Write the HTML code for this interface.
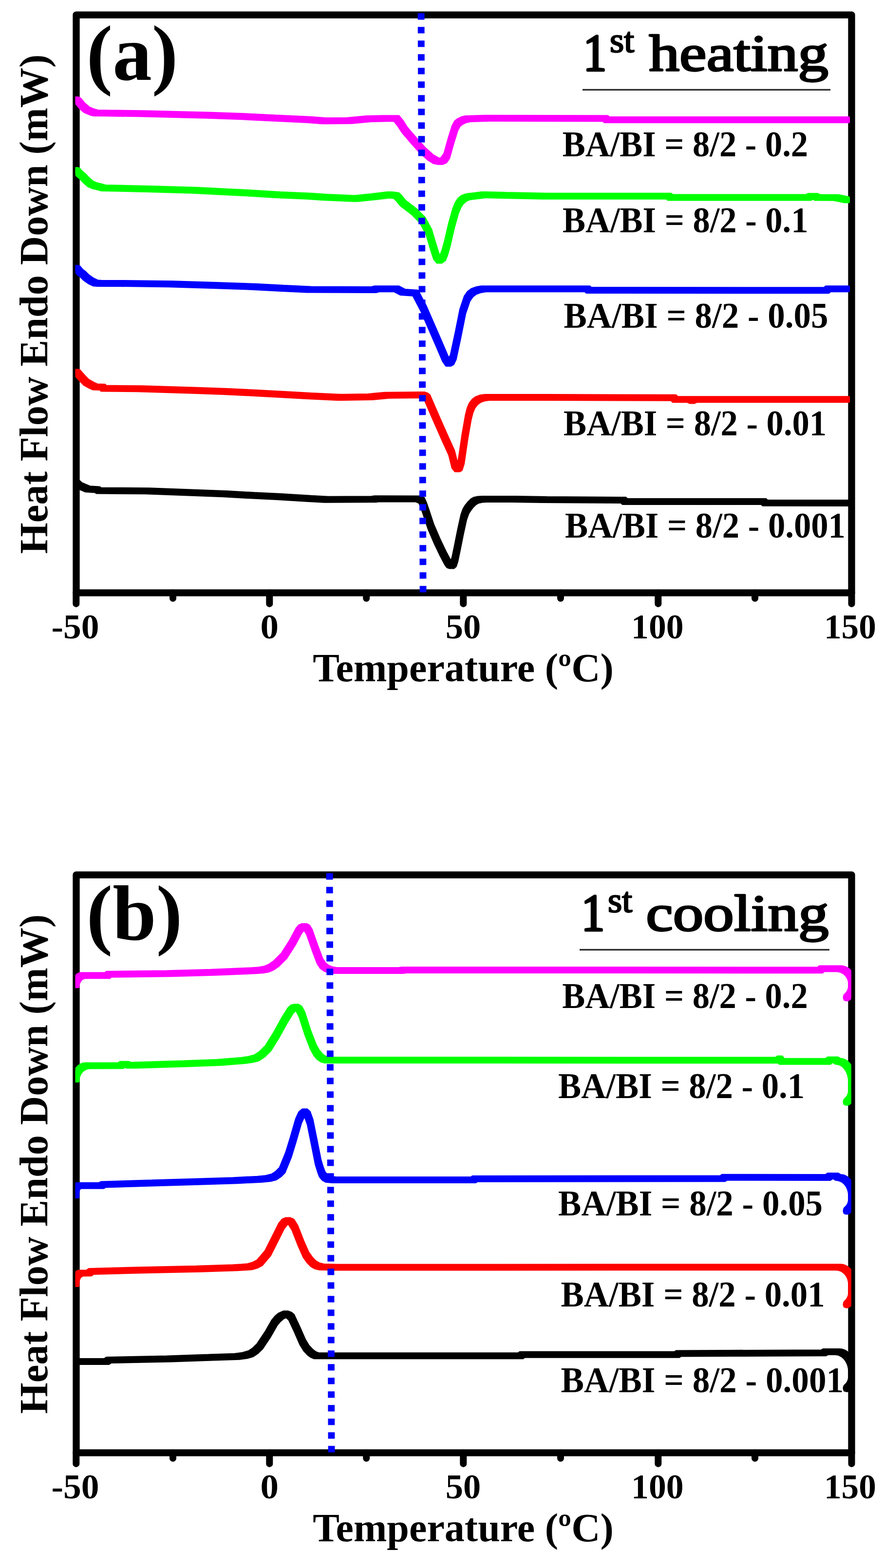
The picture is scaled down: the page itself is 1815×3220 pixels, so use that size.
<!DOCTYPE html>
<html lang="en">
<head>
<meta charset="utf-8">
<title>DSC thermograms - 1st heating and 1st cooling</title>
<style>
html,body{margin:0;padding:0;background:#fff;}
body{width:1815px;height:3220px;overflow:hidden;}
svg{display:block;}
text{font-family:"Liberation Serif", "DejaVu Serif", serif;font-weight:bold;fill:#000;}
.curve{stroke-width:4.8;stroke-linejoin:round;}
.tl{font-weight:bold;}
.ttl{font-weight:normal;stroke:#000;stroke-width:3.4;stroke-linejoin:round;white-space:pre;}
.frame{fill:none;stroke:#000;stroke-width:14.3;stroke-linejoin:round;}
.tick{stroke:#000;stroke-width:14.0;stroke-linecap:round;}
.dot{stroke:#0000ff;stroke-width:13.8;fill:none;}
.ul{stroke:#2a2a2a;stroke-width:3.2;}
</style>
</head>
<body>
<svg width="1815" height="3220" viewBox="0 0 1815 3220" role="img" aria-label="DSC thermograms: (a) first heating and (b) first cooling">
<rect x="0" y="0" width="1815" height="3220" fill="#ffffff"/>

<g>
<rect class="frame" x="156.5" y="30.6" width="1592.0" height="1186.8000000000002"/>
<line class="tick" x1="156.3" y1="1217.4" x2="156.3" y2="1239.9"/>
<line class="tick" x1="553.3" y1="1217.4" x2="553.3" y2="1239.9"/>
<line class="tick" x1="951.3" y1="1217.4" x2="951.3" y2="1239.9"/>
<line class="tick" x1="1351.3" y1="1217.4" x2="1351.3" y2="1239.9"/>
<line class="tick" x1="1748.5" y1="1217.4" x2="1748.5" y2="1239.9"/>
<line class="tick" x1="355.0" y1="1217.4" x2="355.0" y2="1228.7"/>
<line class="tick" x1="752.2" y1="1217.4" x2="752.2" y2="1228.7"/>
<line class="tick" x1="1151.0" y1="1217.4" x2="1151.0" y2="1228.7"/>
<line class="tick" x1="1550.0" y1="1217.4" x2="1550.0" y2="1228.7"/>
<clipPath id="clip-a"><rect x="154.6" y="30.6" width="1593.2" height="1186.8000000000002"/></clipPath>
<g clip-path="url(#clip-a)">
<path class="curve" fill="#000000" stroke="#000000" d="M150 984.4L159.2 984.4L161.6 986.9L161.6 996.1L152.4 996.1L150 993.6ZM152.4 986.9L161.6 986.9L167.6 992.4L167.6 1001.6L158.4 1001.6L152.4 996.1ZM158.4 992.4L167.6 992.4L174.6 995.4L174.6 1004.6L165.4 1004.6L158.4 1001.6ZM165.4 995.4L174.6 995.4L184.6 999.6L184.6 1008.8L175.4 1008.8L165.4 1004.6ZM175.4 999.6L184.6 999.6L204.6 1000.8L204.6 1010L195.4 1010L175.4 1008.8ZM195.4 1000.8L204.6 1000.8L207.1 1002.8L207.1 1012L197.9 1012L195.4 1010ZM197.9 1002.8L207.1 1002.8L307.6 1003.7L307.6 1012.9L298.4 1012.9L197.9 1012ZM298.4 1003.7L307.6 1003.7L401.6 1007.1L401.6 1016.3L392.4 1016.3L298.4 1012.9ZM392.4 1007.1L401.6 1007.1L467.6 1009.7L467.6 1018.9L458.4 1018.9L392.4 1016.3ZM458.4 1009.7L467.6 1009.7L521.6 1012.7L521.6 1021.9L512.4 1021.9L458.4 1018.9ZM512.4 1012.7L521.6 1012.7L577.6 1015.4L577.6 1024.6L568.4 1024.6L512.4 1021.9ZM568.4 1015.4L577.6 1015.4L638.6 1019.1L638.6 1028.3L629.4 1028.3L568.4 1024.6ZM629.4 1019.1L638.6 1019.1L674.6 1021.1L674.6 1030.3L665.4 1030.3L629.4 1028.3ZM665.4 1021.1L762.4 1020.7L771.6 1020.7L771.6 1029.9L674.6 1030.3L665.4 1030.3ZM762.4 1020.7L769.4 1019.7L778.6 1019.7L778.6 1028.9L771.6 1029.9L762.4 1029.9ZM769.4 1019.7L778.6 1019.7L862.6 1019.9L862.6 1029.1L853.4 1029.1L769.4 1028.9ZM853.4 1019.9L862.6 1019.9L870.1 1022.9L870.1 1032.1L860.9 1032.1L853.4 1029.1ZM860.9 1022.9L870.1 1022.9L874.1 1031.9L874.1 1041.1L864.9 1041.1L860.9 1032.1ZM864.9 1031.9L874.1 1031.9L878.7 1045L878.7 1054.2L869.5 1054.2L864.9 1041.1ZM869.5 1045L878.7 1045L889.4 1077.2L889.4 1086.4L880.2 1086.4L869.5 1054.2ZM880.2 1077.2L889.4 1077.2L902.2 1107L902.2 1116.2L893 1116.2L880.2 1086.4ZM893 1107L902.2 1107L914 1131.8L914 1141L904.8 1141L893 1116.2ZM904.8 1131.8L914 1131.8L923.6 1149.9L923.6 1159.1L914.4 1159.1L904.8 1141ZM914.4 1149.9L923.6 1149.9L927.6 1155.4L927.6 1164.6L918.4 1164.6L914.4 1159.1ZM918.4 1155.4L927.6 1155.4L931.6 1156.9L931.6 1166.1L922.4 1166.1L918.4 1164.6ZM922.4 1156.9L926.4 1153.4L935.6 1153.4L935.6 1162.6L931.6 1166.1L922.4 1166.1ZM926.4 1153.4L929.4 1144.4L938.6 1144.4L938.6 1153.6L935.6 1162.6L926.4 1162.6ZM929.4 1144.4L934.6 1119.4L943.8 1119.4L943.8 1128.6L938.6 1153.6L929.4 1153.6ZM934.6 1119.4L940.8 1088.4L950 1088.4L950 1097.6L943.8 1128.6L934.6 1128.6ZM940.8 1088.4L947.6 1057.4L956.8 1057.4L956.8 1066.6L950 1097.6L940.8 1097.6ZM947.6 1057.4L951.9 1045.4L961.1 1045.4L961.1 1054.6L956.8 1066.6L947.6 1066.6ZM951.9 1045.4L955.9 1038.8L965.1 1038.8L965.1 1048L961.1 1054.6L951.9 1054.6ZM955.9 1038.8L961.8 1031.4L971 1031.4L971 1040.6L965.1 1048L955.9 1048ZM961.8 1031.4L967.4 1025.9L976.6 1025.9L976.6 1035.1L971 1040.6L961.8 1040.6ZM967.4 1025.9L973 1022.7L982.2 1022.7L982.2 1031.9L976.6 1035.1L967.4 1035.1ZM973 1022.7L981.4 1020.9L990.6 1020.9L990.6 1030.1L982.2 1031.9L973 1031.9ZM981.4 1020.9L990.4 1020.4L999.6 1020.4L999.6 1029.6L990.6 1030.1L981.4 1030.1ZM990.4 1020.4L1058.6 1020.4L1058.6 1029.6L990.4 1029.6ZM1049.4 1020.4L1058.6 1020.4L1122.6 1021.4L1122.6 1030.6L1113.4 1030.6L1049.4 1029.6ZM1113.4 1021.4L1122.6 1021.4L1284.6 1022.4L1284.6 1031.6L1275.4 1031.6L1113.4 1030.6ZM1275.4 1022.4L1284.6 1022.4L1287.6 1025.4L1287.6 1034.6L1278.4 1034.6L1275.4 1031.6ZM1278.4 1025.4L1572.6 1025.4L1572.6 1034.6L1278.4 1034.6ZM1563.4 1025.4L1572.6 1025.4L1575.6 1028.2L1575.6 1037.4L1566.4 1037.4L1563.4 1034.6ZM1566.4 1028.2L1575.6 1028.2L1742.6 1028.3L1742.6 1037.5L1733.4 1037.5L1566.4 1037.4Z"/>
<path class="curve" fill="#ff0000" stroke="#ff0000" d="M150 759.9L159.2 759.9L163.1 760.4L163.1 769.6L153.9 769.6L150 769.1ZM153.9 760.4L163.1 760.4L172.1 770.7L172.1 779.9L162.9 779.9L153.9 769.6ZM162.9 770.7L172.1 770.7L181.6 780.4L181.6 789.6L172.4 789.6L162.9 779.9ZM172.4 780.4L181.6 780.4L192.6 786.7L192.6 795.9L183.4 795.9L172.4 789.6ZM183.4 786.7L192.6 786.7L200.1 790L200.1 799.2L190.9 799.2L183.4 795.9ZM190.9 790L200.1 790L215.6 790.5L215.6 799.7L206.4 799.7L190.9 799.2ZM206.4 790.5L215.6 790.5L217.1 793L217.1 802.2L207.9 802.2L206.4 799.7ZM207.9 793L217.1 793L291.3 793.7L291.3 802.9L282.1 802.9L207.9 802.2ZM282.1 793.7L291.3 793.7L404.6 797.1L404.6 806.3L395.4 806.3L282.1 802.9ZM395.4 797.1L404.6 797.1L467.6 799.4L467.6 808.6L458.4 808.6L395.4 806.3ZM458.4 799.4L467.6 799.4L524.6 802.1L524.6 811.3L515.4 811.3L458.4 808.6ZM515.4 802.1L524.6 802.1L584.6 805.4L584.6 814.6L575.4 814.6L515.4 811.3ZM575.4 805.4L584.6 805.4L638.6 808.4L638.6 817.6L629.4 817.6L575.4 814.6ZM629.4 808.4L638.6 808.4L701.6 811.4L701.6 820.6L692.4 820.6L629.4 817.6ZM692.4 811.4L755.4 810.4L764.6 810.4L764.6 819.6L701.6 820.6L692.4 820.6ZM755.4 810.4L789.4 807.1L798.6 807.1L798.6 816.3L764.6 819.6L755.4 819.6ZM789.4 807.1L862.7 806.4L871.9 806.4L871.9 815.6L798.6 816.3L789.4 816.3ZM862.7 806.4L871.9 806.4L877.6 808.4L877.6 817.6L868.4 817.6L862.7 815.6ZM868.4 808.4L877.6 808.4L881.9 812.1L881.9 821.3L872.7 821.3L868.4 817.6ZM872.7 812.1L881.9 812.1L891.9 835.4L891.9 844.6L882.7 844.6L872.7 821.3ZM882.7 835.4L891.9 835.4L901.9 858.4L901.9 867.6L892.7 867.6L882.7 844.6ZM892.7 858.4L901.9 858.4L915.3 888.7L915.3 897.9L906.1 897.9L892.7 867.6ZM906.1 888.7L915.3 888.7L931.9 925.4L931.9 934.6L922.7 934.6L906.1 897.9ZM922.7 925.4L931.9 925.4L938.6 952.1L938.6 961.3L929.4 961.3L922.7 934.6ZM929.4 952.1L938.6 952.1L943.6 958.1L943.6 967.3L934.4 967.3L929.4 961.3ZM934.4 958.1L938.4 955.9L947.6 955.9L947.6 965.1L943.6 967.3L934.4 967.3ZM938.4 955.9L942.4 943.4L951.6 943.4L951.6 952.6L947.6 965.1L938.4 965.1ZM942.4 943.4L950.1 891.1L959.3 891.1L959.3 900.3L951.6 952.6L942.4 952.6ZM950.1 891.1L956.9 852.4L966.1 852.4L966.1 861.6L959.3 900.3L950.1 900.3ZM956.9 852.4L960.4 838.4L969.6 838.4L969.6 847.6L966.1 861.6L956.9 861.6ZM960.4 838.4L964.6 828.4L973.8 828.4L973.8 837.6L969.6 847.6L960.4 847.6ZM964.6 828.4L970.4 820.9L979.6 820.9L979.6 830.1L973.8 837.6L964.6 837.6ZM970.4 820.9L977.1 815.9L986.3 815.9L986.3 825.1L979.6 830.1L970.4 830.1ZM977.1 815.9L986.4 812.6L995.6 812.6L995.6 821.8L986.3 825.1L977.1 825.1ZM986.4 812.6L995.4 811.4L1004.6 811.4L1004.6 820.6L995.6 821.8L986.4 821.8ZM995.4 811.4L1122.6 811.4L1122.6 820.6L995.4 820.6ZM1113.4 811.4L1122.6 811.4L1387.6 812.1L1387.6 821.3L1378.4 821.3L1113.4 820.6ZM1378.4 812.1L1387.6 812.1L1390.6 815.6L1390.6 824.8L1381.4 824.8L1378.4 821.3ZM1381.4 815.6L1420.6 815.6L1420.6 824.8L1381.4 824.8ZM1411.4 815.6L1420.6 815.6L1425.6 818L1425.6 827.2L1416.4 827.2L1411.4 824.8ZM1416.4 818L1421.4 815.6L1430.6 815.6L1430.6 824.8L1425.6 827.2L1416.4 827.2ZM1421.4 815.6L1430.6 815.6L1742.6 815.7L1742.6 824.9L1733.4 824.9L1421.4 824.8Z"/>
<path class="curve" fill="#0000ff" stroke="#0000ff" d="M150 546.5L159.2 546.5L163.1 547.2L163.1 556.4L153.9 556.4L150 555.7ZM153.9 547.2L163.1 547.2L169.1 554.4L169.1 563.6L159.9 563.6L153.9 556.4ZM159.9 554.4L169.1 554.4L174.6 558.4L174.6 567.6L165.4 567.6L159.9 563.6ZM165.4 558.4L174.6 558.4L181.6 565.4L181.6 574.6L172.4 574.6L165.4 567.6ZM172.4 565.4L181.6 565.4L191.6 572.4L191.6 581.6L182.4 581.6L172.4 574.6ZM182.4 572.4L191.6 572.4L200.6 576.6L200.6 585.8L191.4 585.8L182.4 581.6ZM191.4 576.6L200.6 576.6L209.6 577.4L209.6 586.6L200.4 586.6L191.4 585.8ZM200.4 577.4L254.6 577.4L254.6 586.6L200.4 586.6ZM245.4 577.4L254.6 577.4L354.6 578.7L354.6 587.9L345.4 587.9L245.4 586.6ZM345.4 578.7L354.6 578.7L444.6 581.4L444.6 590.6L435.4 590.6L345.4 587.9ZM435.4 581.4L444.6 581.4L524.6 584.1L524.6 593.3L515.4 593.3L435.4 590.6ZM515.4 584.1L524.6 584.1L581.6 587.1L581.6 596.3L572.4 596.3L515.4 593.3ZM572.4 587.1L581.6 587.1L638.6 589.9L638.6 599.1L629.4 599.1L572.4 596.3ZM629.4 589.9L638.6 589.9L771.6 590.4L771.6 599.6L762.4 599.6L629.4 599.1ZM762.4 590.4L769.4 588.7L778.6 588.7L778.6 597.9L771.6 599.6L762.4 599.6ZM769.4 588.7L818.6 588.7L818.6 597.9L769.4 597.9ZM809.4 588.7L818.6 588.7L831.6 595.4L831.6 604.6L822.4 604.6L809.4 597.9ZM822.4 595.4L831.6 595.4L857.6 597.1L857.6 606.3L848.4 606.3L822.4 604.6ZM848.4 597.1L857.6 597.1L874.1 628.7L874.1 637.9L864.9 637.9L848.4 606.3ZM864.9 628.7L874.1 628.7L890.1 665.4L890.1 674.6L880.9 674.6L864.9 637.9ZM880.9 665.4L890.1 665.4L906.1 702.1L906.1 711.3L896.9 711.3L880.9 674.6ZM896.9 702.1L906.1 702.1L918.9 732.1L918.9 741.3L909.7 741.3L896.9 711.3ZM909.7 732.1L918.9 732.1L925.3 741.4L925.3 750.6L916.1 750.6L909.7 741.3ZM916.1 741.4L921.4 738.4L930.6 738.4L930.6 747.6L925.3 750.6L916.1 750.6ZM921.4 738.4L926.1 728.7L935.3 728.7L935.3 737.9L930.6 747.6L921.4 747.6ZM926.1 728.7L936.1 682.1L945.3 682.1L945.3 691.3L935.3 737.9L926.1 737.9ZM936.1 682.1L945.4 635.4L954.6 635.4L954.6 644.6L945.3 691.3L936.1 691.3ZM945.4 635.4L954.4 608.7L963.6 608.7L963.6 617.9L954.6 644.6L945.4 644.6ZM954.4 608.7L960.9 599.4L970.1 599.4L970.1 608.6L963.6 617.9L954.4 617.9ZM960.9 599.4L968.6 593.7L977.8 593.7L977.8 602.9L970.1 608.6L960.9 608.6ZM968.6 593.7L977.9 590.4L987.1 590.4L987.1 599.6L977.8 602.9L968.6 602.9ZM977.9 590.4L988.4 588.7L997.6 588.7L997.6 597.9L987.1 599.6L977.9 599.6ZM988.4 588.7L1210.6 588.7L1210.6 597.9L988.4 597.9ZM1201.4 588.7L1210.6 588.7L1213.6 591.4L1213.6 600.6L1204.4 600.6L1201.4 597.9ZM1204.4 591.4L1213.6 591.4L1701.6 591.6L1701.6 600.8L1692.4 600.8L1204.4 600.6ZM1692.4 591.6L1695.4 588.6L1704.6 588.6L1704.6 597.8L1701.6 600.8L1692.4 600.8ZM1695.4 588.6L1742.6 588.6L1742.6 597.8L1695.4 597.8Z"/>
<path class="curve" fill="#00ff00" stroke="#00ff00" d="M150 345.5L159.2 345.5L162.6 346.4L162.6 355.6L153.4 355.6L150 354.7ZM153.4 346.4L162.6 346.4L168.6 352.9L168.6 362.1L159.4 362.1L153.4 355.6ZM159.4 352.9L168.6 352.9L174.6 357.9L174.6 367.1L165.4 367.1L159.4 362.1ZM165.4 357.9L174.6 357.9L181.6 365.4L181.6 374.6L172.4 374.6L165.4 367.1ZM172.4 365.4L181.6 365.4L190.6 373.2L190.6 382.4L181.4 382.4L172.4 374.6ZM181.4 373.2L190.6 373.2L199.2 376.9L199.2 386.1L190 386.1L181.4 382.4ZM190 376.9L199.2 376.9L207.6 378.8L207.6 388L198.4 388L190 386.1ZM198.4 378.8L207.6 378.8L216.6 381.3L216.6 390.5L207.4 390.5L198.4 388ZM207.4 381.3L216.6 381.3L307.6 383.4L307.6 392.6L298.4 392.6L207.4 390.5ZM298.4 383.4L307.6 383.4L404.6 386.1L404.6 395.3L395.4 395.3L298.4 392.6ZM395.4 386.1L404.6 386.1L467.6 389.4L467.6 398.6L458.4 398.6L395.4 395.3ZM458.4 389.4L467.6 389.4L521.6 392.1L521.6 401.3L512.4 401.3L458.4 398.6ZM512.4 392.1L521.6 392.1L574.6 395.4L574.6 404.6L565.4 404.6L512.4 401.3ZM565.4 395.4L574.6 395.4L638.6 398.1L638.6 407.3L629.4 407.3L565.4 404.6ZM629.4 398.1L638.6 398.1L671.6 400.4L671.6 409.6L662.4 409.6L629.4 407.3ZM662.4 400.4L671.6 400.4L734.6 403.1L734.6 412.3L725.4 412.3L662.4 409.6ZM725.4 403.1L762.4 399.4L771.6 399.4L771.6 408.6L734.6 412.3L725.4 412.3ZM762.4 399.4L795.4 395.4L804.6 395.4L804.6 404.6L771.6 408.6L762.4 408.6ZM795.4 395.4L804.6 395.4L818.6 397.1L818.6 406.3L809.4 406.3L795.4 404.6ZM809.4 397.1L818.6 397.1L824.6 403.4L824.6 412.6L815.4 412.6L809.4 406.3ZM815.4 403.4L824.6 403.4L831.6 412.1L831.6 421.3L822.4 421.3L815.4 412.6ZM822.4 412.1L831.6 412.1L855.3 430.4L855.3 439.6L846.1 439.6L822.4 421.3ZM846.1 430.4L855.3 430.4L871.9 447.1L871.9 456.3L862.7 456.3L846.1 439.6ZM862.7 447.1L871.9 447.1L885.3 472.1L885.3 481.3L876.1 481.3L862.7 456.3ZM876.1 472.1L885.3 472.1L894.1 502.1L894.1 511.3L884.9 511.3L876.1 481.3ZM884.9 502.1L894.1 502.1L900.6 522.4L900.6 531.6L891.4 531.6L884.9 511.3ZM891.4 522.4L900.6 522.4L906.9 529.9L906.9 539.1L897.7 539.1L891.4 531.6ZM897.7 529.9L904.4 524.9L913.6 524.9L913.6 534.1L906.9 539.1L897.7 539.1ZM904.4 524.9L908.9 513.4L918.1 513.4L918.1 522.6L913.6 534.1L904.4 534.1ZM908.9 513.4L913.9 495.4L923.1 495.4L923.1 504.6L918.1 522.6L908.9 522.6ZM913.9 495.4L922.4 458.7L931.6 458.7L931.6 467.9L923.1 504.6L913.9 504.6ZM922.4 458.7L930.9 428.7L940.1 428.7L940.1 437.9L931.6 467.9L922.4 467.9ZM930.9 428.7L935.9 416.4L945.1 416.4L945.1 425.6L940.1 437.9L930.9 437.9ZM935.9 416.4L940.9 408.7L950.1 408.7L950.1 417.9L945.1 425.6L935.9 425.6ZM940.9 408.7L948.4 402.4L957.6 402.4L957.6 411.6L950.1 417.9L940.9 417.9ZM948.4 402.4L956.9 399.4L966.1 399.4L966.1 408.6L957.6 411.6L948.4 411.6ZM956.9 399.4L989.4 395.4L998.6 395.4L998.6 404.6L966.1 408.6L956.9 408.6ZM989.4 395.4L998.6 395.4L1038.6 396.4L1038.6 405.6L1029.4 405.6L989.4 404.6ZM1029.4 396.4L1038.6 396.4L1122.6 398.1L1122.6 407.3L1113.4 407.3L1029.4 405.6ZM1113.4 398.1L1377.6 398.1L1377.6 407.3L1113.4 407.3ZM1368.4 398.1L1377.6 398.1L1380.6 400.8L1380.6 410L1371.4 410L1368.4 407.3ZM1371.4 400.8L1380.6 400.8L1664.6 400.9L1664.6 410.1L1655.4 410.1L1371.4 410ZM1655.4 400.9L1659.4 398.6L1668.6 398.6L1668.6 407.8L1664.6 410.1L1655.4 410.1ZM1659.4 398.6L1678.6 398.6L1678.6 407.8L1659.4 407.8ZM1669.4 398.6L1678.6 398.6L1682.6 400.9L1682.6 410.1L1673.4 410.1L1669.4 407.8ZM1673.4 400.9L1682.6 400.9L1720.6 401.2L1720.6 410.4L1711.4 410.4L1673.4 410.1ZM1711.4 401.2L1720.6 401.2L1732.6 403.4L1732.6 412.6L1723.4 412.6L1711.4 410.4ZM1723.4 403.4L1732.6 403.4L1742.6 405.7L1742.6 414.9L1733.4 414.9L1723.4 412.6Z"/>
<path class="curve" fill="#ff00ff" stroke="#ff00ff" d="M150 200.4L159.2 200.4L162.6 201.2L162.6 210.4L153.4 210.4L150 209.6ZM153.4 201.2L162.6 201.2L166.2 203.9L166.2 213.1L157 213.1L153.4 210.4ZM157 203.9L166.2 203.9L172.6 212.2L172.6 221.4L163.4 221.4L157 213.1ZM163.4 212.2L172.6 212.2L182.8 220.9L182.8 230.1L173.6 230.1L163.4 221.4ZM173.6 220.9L182.8 220.9L193.7 225.4L193.7 234.6L184.5 234.6L173.6 230.1ZM184.5 225.4L193.7 225.4L200.6 227.4L200.6 236.6L191.4 236.6L184.5 234.6ZM191.4 227.4L200.6 227.4L221.6 227.7L221.6 236.9L212.4 236.9L191.4 236.6ZM212.4 227.7L221.6 227.7L294.6 228.7L294.6 237.9L285.4 237.9L212.4 236.9ZM285.4 228.7L294.6 228.7L434.6 232.1L434.6 241.3L425.4 241.3L285.4 237.9ZM425.4 232.1L434.6 232.1L504.6 234.7L504.6 243.9L495.4 243.9L425.4 241.3ZM495.4 234.7L504.6 234.7L564.6 237.7L564.6 246.9L555.4 246.9L495.4 243.9ZM555.4 237.7L564.6 237.7L638.6 241.1L638.6 250.3L629.4 250.3L555.4 246.9ZM629.4 241.1L638.6 241.1L671.6 243.7L671.6 252.9L662.4 252.9L629.4 250.3ZM662.4 243.7L712.4 243.1L721.6 243.1L721.6 252.3L671.6 252.9L662.4 252.9ZM712.4 243.1L752.4 239.4L761.6 239.4L761.6 248.6L721.6 252.3L712.4 252.3ZM752.4 239.4L785.4 238.7L794.6 238.7L794.6 247.9L761.6 248.6L752.4 248.6ZM785.4 238.7L818.6 238.7L818.6 247.9L785.4 247.9ZM809.4 238.7L818.6 238.7L826.6 248.4L826.6 257.6L817.4 257.6L809.4 247.9ZM817.4 248.4L826.6 248.4L835.3 262.1L835.3 271.3L826.1 271.3L817.4 257.6ZM826.1 262.1L835.3 262.1L855.3 285.4L855.3 294.6L846.1 294.6L826.1 271.3ZM846.1 285.4L855.3 285.4L871.9 303.7L871.9 312.9L862.7 312.9L846.1 294.6ZM862.7 303.7L871.9 303.7L888.6 318.7L888.6 327.9L879.4 327.9L862.7 312.9ZM879.4 318.7L888.6 318.7L899.6 325.4L899.6 334.6L890.4 334.6L879.4 327.9ZM890.4 325.4L899.6 325.4L908.6 327.1L908.6 336.3L899.4 336.3L890.4 334.6ZM899.4 327.1L906.4 324.4L915.6 324.4L915.6 333.6L908.6 336.3L899.4 336.3ZM906.4 324.4L912.7 315.4L921.9 315.4L921.9 324.6L915.6 333.6L906.4 333.6ZM912.7 315.4L921.1 285.4L930.3 285.4L930.3 294.6L921.9 324.6L912.7 324.6ZM921.1 285.4L929.4 258.7L938.6 258.7L938.6 267.9L930.3 294.6L921.1 294.6ZM929.4 258.7L934.4 249.4L943.6 249.4L943.6 258.6L938.6 267.9L929.4 267.9ZM934.4 249.4L939.4 245.4L948.6 245.4L948.6 254.6L943.6 258.6L934.4 258.6ZM939.4 245.4L947.4 241.4L956.6 241.4L956.6 250.6L948.6 254.6L939.4 254.6ZM947.4 241.4L956.1 239.4L965.3 239.4L965.3 248.6L956.6 250.6L947.4 250.6ZM956.1 239.4L995.4 238.1L1004.6 238.1L1004.6 247.3L965.3 248.6L956.1 248.6ZM995.4 238.1L1004.6 238.1L1247.6 238.7L1247.6 247.9L1238.4 247.9L995.4 247.3ZM1238.4 238.7L1247.6 238.7L1250.6 241.4L1250.6 250.6L1241.4 250.6L1238.4 247.9ZM1241.4 241.4L1250.6 241.4L1742.6 241.5L1742.6 250.7L1733.4 250.7L1241.4 250.6Z"/>
</g>
<line class="dot" stroke-dasharray="13.2 14.80" x1="864.6" y1="27.2" x2="868.6" y2="1218.5"/>
<text x="177.6" y="164.4" font-size="161">(a)</text>
<text class="ttl" y="144.8" font-size="106"><tspan x="1197.5" y="144.5" font-size="107" textLength="48" lengthAdjust="spacingAndGlyphs" style="stroke-width:4.6">1</tspan><tspan x="1252.0" y="107.0" font-size="71" textLength="50" lengthAdjust="spacingAndGlyphs" style="stroke-width:2.6">st</tspan><tspan x="1301.3" y="144.8" textLength="399.5" lengthAdjust="spacingAndGlyphs" xml:space="preserve"> heating</tspan></text><line class="ul" x1="1196" y1="184.3" x2="1705" y2="184.3"/>
<text x="1154.7" y="320.9" font-size="73" textLength="504.4" lengthAdjust="spacingAndGlyphs">BA/BI = 8/2 - 0.2</text>
<text x="1155.0" y="477.3" font-size="73" textLength="504.4" lengthAdjust="spacingAndGlyphs">BA/BI = 8/2 - 0.1</text>
<text x="1157.5" y="673.0" font-size="73" textLength="543.0" lengthAdjust="spacingAndGlyphs">BA/BI = 8/2 - 0.05</text>
<text x="1157.1" y="894.0" font-size="73" textLength="540.0" lengthAdjust="spacingAndGlyphs">BA/BI = 8/2 - 0.01</text>
<text x="1159.9" y="1104.0" font-size="73" textLength="576.0" lengthAdjust="spacingAndGlyphs">BA/BI = 8/2 - 0.001</text>
<text x="154.5" y="1310.6" font-size="71.5" text-anchor="middle" textLength="98.0" lengthAdjust="spacingAndGlyphs" class="tl">-50</text>
<text x="553.3" y="1310.6" font-size="71.5" text-anchor="middle" textLength="37.5" lengthAdjust="spacingAndGlyphs" class="tl">0</text>
<text x="950.9" y="1310.6" font-size="71.5" text-anchor="middle" textLength="72.5" lengthAdjust="spacingAndGlyphs" class="tl">50</text>
<text x="1349.8" y="1310.6" font-size="71.5" text-anchor="middle" textLength="107.5" lengthAdjust="spacingAndGlyphs" class="tl">100</text>
<text x="1745.4" y="1310.6" font-size="71.5" text-anchor="middle" textLength="107.0" lengthAdjust="spacingAndGlyphs" class="tl">150</text>
<text x="642.3" y="1398.8" font-size="82.3" textLength="617.5" lengthAdjust="spacingAndGlyphs">Temperature (ºC)</text>
<text transform="translate(96.7,1137.5) rotate(-90)" font-size="82.5" textLength="1026" lengthAdjust="spacingAndGlyphs">Heat Flow Endo Down (mW)</text>
</g>
<g>
<rect class="frame" x="156.5" y="1796.6" width="1592.0" height="1186.8000000000002"/>
<line class="tick" x1="156.3" y1="2983.4" x2="156.3" y2="3005.9"/>
<line class="tick" x1="553.3" y1="2983.4" x2="553.3" y2="3005.9"/>
<line class="tick" x1="951.3" y1="2983.4" x2="951.3" y2="3005.9"/>
<line class="tick" x1="1351.3" y1="2983.4" x2="1351.3" y2="3005.9"/>
<line class="tick" x1="1748.5" y1="2983.4" x2="1748.5" y2="3005.9"/>
<line class="tick" x1="355.0" y1="2983.4" x2="355.0" y2="2994.7"/>
<line class="tick" x1="752.2" y1="2983.4" x2="752.2" y2="2994.7"/>
<line class="tick" x1="1151.0" y1="2983.4" x2="1151.0" y2="2994.7"/>
<line class="tick" x1="1550.0" y1="2983.4" x2="1550.0" y2="2994.7"/>
<clipPath id="clip-b"><rect x="154.6" y="1796.6" width="1593.2" height="1186.8000000000002"/></clipPath>
<g clip-path="url(#clip-b)">
<path class="curve" fill="#000000" stroke="#000000" d="M145.4 2791.4L223.6 2791.4L223.6 2800.6L145.4 2800.6ZM214.4 2791.4L218.4 2788.5L227.6 2788.5L227.6 2797.7L223.6 2800.6L214.4 2800.6ZM218.4 2788.5L342.4 2785.9L351.6 2785.9L351.6 2795.1L227.6 2797.7L218.4 2797.7ZM342.4 2785.9L428.4 2783L437.6 2783L437.6 2792.2L351.6 2795.1L342.4 2795.1ZM428.4 2783L482.1 2781.1L491.3 2781.1L491.3 2790.3L437.6 2792.2L428.4 2792.2ZM482.1 2781.1L498.4 2778.9L507.6 2778.9L507.6 2788.1L491.3 2790.3L482.1 2790.3ZM498.4 2778.9L510.4 2775.4L519.6 2775.4L519.6 2784.6L507.6 2788.1L498.4 2788.1ZM510.4 2775.4L519.4 2769.4L528.6 2769.4L528.6 2778.6L519.6 2784.6L510.4 2784.6ZM519.4 2769.4L528.7 2760.4L537.9 2760.4L537.9 2769.6L528.6 2778.6L519.4 2778.6ZM528.7 2760.4L545.4 2735.4L554.6 2735.4L554.6 2744.6L537.9 2769.6L528.7 2769.6ZM545.4 2735.4L558.7 2712.1L567.9 2712.1L567.9 2721.3L554.6 2744.6L545.4 2744.6ZM558.7 2712.1L565.4 2703.9L574.6 2703.9L574.6 2713.1L567.9 2721.3L558.7 2721.3ZM565.4 2703.9L572.4 2697.9L581.6 2697.9L581.6 2707.1L574.6 2713.1L565.4 2713.1ZM572.4 2697.9L582.1 2693.7L591.3 2693.7L591.3 2702.9L581.6 2707.1L572.4 2707.1ZM582.1 2693.7L591.3 2693.7L597.6 2695.9L597.6 2705.1L588.4 2705.1L582.1 2702.9ZM588.4 2695.9L597.6 2695.9L602.9 2700.4L602.9 2709.6L593.7 2709.6L588.4 2705.1ZM593.7 2700.4L602.9 2700.4L614.6 2725.4L614.6 2734.6L605.4 2734.6L593.7 2709.6ZM605.4 2725.4L614.6 2725.4L626.3 2752.1L626.3 2761.3L617.1 2761.3L605.4 2734.6ZM617.1 2752.1L626.3 2752.1L633.6 2763.9L633.6 2773.1L624.4 2773.1L617.1 2761.3ZM624.4 2763.9L633.6 2763.9L641.3 2772.1L641.3 2781.3L632.1 2781.3L624.4 2773.1ZM632.1 2772.1L641.3 2772.1L647.6 2776.9L647.6 2786.1L638.4 2786.1L632.1 2781.3ZM638.4 2776.9L647.6 2776.9L654.6 2779.7L654.6 2788.9L645.4 2788.9L638.4 2786.1ZM645.4 2779.7L1073.6 2779.7L1073.6 2788.9L645.4 2788.9ZM1064.4 2779.7L1067.4 2777.2L1076.6 2777.2L1076.6 2786.4L1073.6 2788.9L1064.4 2788.9ZM1067.4 2777.2L1394.6 2777.2L1394.6 2786.4L1067.4 2786.4ZM1385.4 2777.2L1388.4 2774.9L1397.6 2774.9L1397.6 2784.1L1394.6 2786.4L1385.4 2786.4ZM1388.4 2774.9L1495.4 2774.4L1504.6 2774.4L1504.6 2783.6L1397.6 2784.1L1388.4 2784.1ZM1495.4 2774.4L1686.4 2773.6L1695.6 2773.6L1695.6 2782.8L1504.6 2783.6L1495.4 2783.6ZM1686.4 2773.6L1690.4 2771.4L1699.6 2771.4L1699.6 2780.6L1695.6 2782.8L1686.4 2782.8ZM1690.4 2771.4L1723.8 2771.4L1723.8 2780.6L1690.4 2780.6ZM1714.6 2771.4L1723.8 2771.4L1728.8 2771.9L1728.8 2781.1L1719.6 2781.1L1714.6 2780.6ZM1719.6 2771.9L1728.8 2771.9L1733.7 2773.6L1733.7 2782.8L1724.5 2782.8L1719.6 2781.1ZM1724.5 2773.6L1733.7 2773.6L1738.3 2776.2L1738.3 2785.4L1729.1 2785.4L1724.5 2782.8ZM1729.1 2776.2L1738.3 2776.2L1742.4 2779.8L1742.4 2789L1733.2 2789L1729.1 2785.4ZM1733.2 2779.8L1742.4 2779.8L1746 2784.3L1746 2793.5L1736.8 2793.5L1733.2 2789ZM1736.8 2784.3L1746 2784.3L1748.9 2789.4L1748.9 2798.6L1739.7 2798.6L1736.8 2793.5ZM1739.7 2789.4L1748.9 2789.4L1751.1 2795.1L1751.1 2804.3L1741.9 2804.3L1739.7 2798.6ZM1741.9 2795.1L1751.1 2795.1L1752.4 2801.1L1752.4 2810.3L1743.2 2810.3L1741.9 2804.3ZM1743.2 2801.1L1752.4 2801.1L1752.8 2807.4L1752.8 2816.6L1743.6 2816.6L1743.2 2810.3ZM1743.6 2807.4L1752.8 2807.4L1752.8 2838.4L1743.6 2838.4ZM1742.4 2834.7L1743.6 2829.2L1752.8 2829.2L1752.8 2838.4L1751.6 2843.9L1742.4 2843.9ZM1739.4 2840.7L1742.4 2834.7L1751.6 2834.7L1751.6 2843.9L1748.6 2849.9L1739.4 2849.9ZM1734 2846.2L1739.4 2840.7L1748.6 2840.7L1748.6 2849.9L1743.2 2855.4L1734 2855.4Z"/>
<circle cx="1738.6" cy="2850.8" r="8.2" fill="#000000"/>
<path class="curve" fill="#ff0000" stroke="#ff0000" d="M151.7 2625.8L160.9 2625.8L160.9 2640.6L151.7 2640.6ZM151.7 2625.8L152 2622.2L161.2 2622.2L161.2 2631.4L160.9 2635L151.7 2635ZM152 2622.2L152.8 2618.9L162 2618.9L162 2628.1L161.2 2631.4L152 2631.4ZM152.8 2618.9L154.1 2615.8L163.3 2615.8L163.3 2625L162 2628.1L152.8 2628.1ZM154.1 2615.8L155.8 2613.3L165 2613.3L165 2622.5L163.3 2625L154.1 2625ZM155.8 2613.3L157.9 2611.4L167.1 2611.4L167.1 2620.6L165 2622.5L155.8 2622.5ZM157.9 2611.4L160.3 2610.2L169.5 2610.2L169.5 2619.4L167.1 2620.6L157.9 2620.6ZM160.3 2610.2L162.7 2609.8L171.9 2609.8L171.9 2619L169.5 2619.4L160.3 2619.4ZM162.7 2609.8L178.4 2609.6L187.6 2609.6L187.6 2618.8L171.9 2619L162.7 2619ZM178.4 2609.6L182.4 2606.4L191.6 2606.4L191.6 2615.6L187.6 2618.8L178.4 2618.8ZM182.4 2606.4L285.4 2603.7L294.6 2603.7L294.6 2612.9L191.6 2615.6L182.4 2615.6ZM285.4 2603.7L402.4 2601.1L411.6 2601.1L411.6 2610.3L294.6 2612.9L285.4 2612.9ZM402.4 2601.1L478.4 2598.6L487.6 2598.6L487.6 2607.8L411.6 2610.3L402.4 2610.3ZM478.4 2598.6L495.4 2597.7L504.6 2597.7L504.6 2606.9L487.6 2607.8L478.4 2607.8ZM495.4 2597.7L508.4 2596.7L517.6 2596.7L517.6 2605.9L504.6 2606.9L495.4 2606.9ZM508.4 2596.7L519.4 2593.4L528.6 2593.4L528.6 2602.6L517.6 2605.9L508.4 2605.9ZM519.4 2593.4L528.4 2588.7L537.6 2588.7L537.6 2597.9L528.6 2602.6L519.4 2602.6ZM528.4 2588.7L545.4 2568.7L554.6 2568.7L554.6 2577.9L537.6 2597.9L528.4 2597.9ZM545.4 2568.7L560.4 2538.9L569.6 2538.9L569.6 2548.1L554.6 2577.9L545.4 2577.9ZM560.4 2538.9L573.4 2512.9L582.6 2512.9L582.6 2522.1L569.6 2548.1L560.4 2548.1ZM573.4 2512.9L580.4 2504.4L589.6 2504.4L589.6 2513.6L582.6 2522.1L573.4 2522.1ZM580.4 2504.4L587.1 2501.8L596.3 2501.8L596.3 2511L589.6 2513.6L580.4 2513.6ZM587.1 2501.8L596.3 2501.8L602.6 2504.9L602.6 2514.1L593.4 2514.1L587.1 2511ZM593.4 2504.9L602.6 2504.9L610.1 2516.9L610.1 2526.1L600.9 2526.1L593.4 2514.1ZM600.9 2516.9L610.1 2516.9L622.6 2548.9L622.6 2558.1L613.4 2558.1L600.9 2526.1ZM613.4 2548.9L622.6 2548.9L632.9 2572.1L632.9 2581.3L623.7 2581.3L613.4 2558.1ZM623.7 2572.1L632.9 2572.1L640.6 2582.9L640.6 2592.1L631.4 2592.1L623.7 2581.3ZM631.4 2582.9L640.6 2582.9L647.9 2590.4L647.9 2599.6L638.7 2599.6L631.4 2592.1ZM638.7 2590.4L647.9 2590.4L655.6 2594.9L655.6 2604.1L646.4 2604.1L638.7 2599.6ZM646.4 2594.9L655.6 2594.9L664.6 2597.1L664.6 2606.3L655.4 2606.3L646.4 2604.1ZM655.4 2597.1L664.6 2597.1L691.3 2597.9L691.3 2607.1L682.1 2607.1L655.4 2606.3ZM682.1 2597.9L1716.4 2597.6L1725.6 2597.6L1725.6 2606.8L691.3 2607.1L682.1 2607.1ZM1716.4 2597.6L1725.8 2597.6L1725.8 2606.8L1716.4 2606.8ZM1716.6 2597.6L1725.8 2597.6L1730.5 2598.1L1730.5 2607.3L1721.3 2607.3L1716.6 2606.8ZM1721.3 2598.1L1730.5 2598.1L1735 2599.5L1735 2608.7L1725.8 2608.7L1721.3 2607.3ZM1725.8 2599.5L1735 2599.5L1739.3 2601.8L1739.3 2611L1730.1 2611L1725.8 2608.7ZM1730.1 2601.8L1739.3 2601.8L1743.2 2604.9L1743.2 2614.1L1734 2614.1L1730.1 2611ZM1734 2604.9L1743.2 2604.9L1746.5 2608.7L1746.5 2617.9L1737.3 2617.9L1734 2614.1ZM1737.3 2608.7L1746.5 2608.7L1749.2 2613.1L1749.2 2622.3L1740 2622.3L1737.3 2617.9ZM1740 2613.1L1749.2 2613.1L1751.2 2618L1751.2 2627.2L1742 2627.2L1740 2622.3ZM1742 2618L1751.2 2618L1752.4 2623.2L1752.4 2632.4L1743.2 2632.4L1742 2627.2ZM1743.2 2623.2L1752.4 2623.2L1752.8 2628.6L1752.8 2637.8L1743.6 2637.8L1743.2 2632.4ZM1743.6 2628.6L1752.8 2628.6L1752.8 2666.1L1743.6 2666.1ZM1742.4 2662.4L1743.6 2656.9L1752.8 2656.9L1752.8 2666.1L1751.6 2671.6L1742.4 2671.6ZM1739.4 2668.4L1742.4 2662.4L1751.6 2662.4L1751.6 2671.6L1748.6 2677.6L1739.4 2677.6ZM1734 2673.9L1739.4 2668.4L1748.6 2668.4L1748.6 2677.6L1743.2 2683.1L1734 2683.1Z"/>
<circle cx="1738.6" cy="2678.5" r="8.2" fill="#ff0000"/>
<path class="curve" fill="#0000ff" stroke="#0000ff" d="M151.7 2440.2L160.9 2440.2L160.9 2458.6L151.7 2458.6ZM151.7 2440.2L151.9 2438L161.1 2438L161.1 2447.2L160.9 2449.4L151.7 2449.4ZM151.9 2438L152.3 2435.9L161.5 2435.9L161.5 2445.1L161.1 2447.2L151.9 2447.2ZM152.3 2435.9L153 2434L162.2 2434L162.2 2443.2L161.5 2445.1L152.3 2445.1ZM153 2434L154 2432.4L163.2 2432.4L163.2 2441.6L162.2 2443.2L153 2443.2ZM154 2432.4L155.1 2431.2L164.3 2431.2L164.3 2440.4L163.2 2441.6L154 2441.6ZM155.1 2431.2L156.4 2430.5L165.6 2430.5L165.6 2439.7L164.3 2440.4L155.1 2440.4ZM156.4 2430.5L157.7 2430.2L166.9 2430.2L166.9 2439.4L165.6 2439.7L156.4 2439.7ZM157.7 2430.2L212.6 2430.2L212.6 2439.4L157.7 2439.4ZM203.4 2430.2L207.4 2427.8L216.6 2427.8L216.6 2437L212.6 2439.4L203.4 2439.4ZM207.4 2427.8L312.4 2424.7L321.6 2424.7L321.6 2433.9L216.6 2437L207.4 2437ZM312.4 2424.7L398.4 2422.1L407.6 2422.1L407.6 2431.3L321.6 2433.9L312.4 2433.9ZM398.4 2422.1L478.4 2419.6L487.6 2419.6L487.6 2428.8L407.6 2431.3L398.4 2431.3ZM478.4 2419.6L528.4 2417.1L537.6 2417.1L537.6 2426.3L487.6 2428.8L478.4 2428.8ZM528.4 2417.1L545.9 2415.4L555.1 2415.4L555.1 2424.6L537.6 2426.3L528.4 2426.3ZM545.9 2415.4L557.9 2412.4L567.1 2412.4L567.1 2421.6L555.1 2424.6L545.9 2424.6ZM557.9 2412.4L566.9 2406.4L576.1 2406.4L576.1 2415.6L567.1 2421.6L557.9 2421.6ZM566.9 2406.4L574.9 2398.4L584.1 2398.4L584.1 2407.6L576.1 2415.6L566.9 2415.6ZM574.9 2398.4L587.9 2366.4L597.1 2366.4L597.1 2375.6L584.1 2407.6L574.9 2407.6ZM587.9 2366.4L597.4 2335.4L606.6 2335.4L606.6 2344.6L597.1 2375.6L587.9 2375.6ZM597.4 2335.4L608.4 2297.4L617.6 2297.4L617.6 2306.6L606.6 2344.6L597.4 2344.6ZM608.4 2297.4L614.4 2284.4L623.6 2284.4L623.6 2293.6L617.6 2306.6L608.4 2306.6ZM614.4 2284.4L621.2 2278.7L630.4 2278.7L630.4 2287.9L623.6 2293.6L614.4 2293.6ZM621.2 2278.7L630.4 2278.7L635.6 2283.4L635.6 2292.6L626.4 2292.6L621.2 2287.9ZM626.4 2283.4L635.6 2283.4L641.3 2299.4L641.3 2308.6L632.1 2308.6L626.4 2292.6ZM632.1 2299.4L641.3 2299.4L649.6 2340.4L649.6 2349.6L640.4 2349.6L632.1 2308.6ZM640.4 2340.4L649.6 2340.4L657.9 2382.1L657.9 2391.3L648.7 2391.3L640.4 2349.6ZM648.7 2382.1L657.9 2382.1L662.6 2397.4L662.6 2406.6L653.4 2406.6L648.7 2391.3ZM653.4 2397.4L662.6 2397.4L666.3 2407.1L666.3 2416.3L657.1 2416.3L653.4 2406.6ZM657.1 2407.1L666.3 2407.1L671.6 2413.4L671.6 2422.6L662.4 2422.6L657.1 2416.3ZM662.4 2413.4L671.6 2413.4L677.9 2417.1L677.9 2426.3L668.7 2426.3L662.4 2422.6ZM668.7 2417.1L677.9 2417.1L691.3 2418.4L691.3 2427.6L682.1 2427.6L668.7 2426.3ZM682.1 2418.4L976.6 2418.4L976.6 2427.6L682.1 2427.6ZM967.4 2418.4L970.4 2416.1L979.6 2416.1L979.6 2425.3L976.6 2427.6L967.4 2427.6ZM970.4 2416.1L1479.4 2415.7L1488.6 2415.7L1488.6 2424.9L979.6 2425.3L970.4 2425.3ZM1479.4 2415.7L1482.4 2413.1L1491.6 2413.1L1491.6 2422.3L1488.6 2424.9L1479.4 2424.9ZM1482.4 2413.1L1491.6 2413.1L1704.6 2413.4L1704.6 2422.6L1695.4 2422.6L1482.4 2422.3ZM1695.4 2413.4L1699.4 2410.4L1708.6 2410.4L1708.6 2419.6L1704.6 2422.6L1695.4 2422.6ZM1699.4 2410.4L1720.6 2410.4L1720.6 2419.6L1699.4 2419.6ZM1711.4 2410.4L1720.6 2410.4L1724.6 2412.9L1724.6 2422.1L1715.4 2422.1L1711.4 2419.6ZM1715.4 2412.9L1724.6 2412.9L1725.8 2413.4L1725.8 2422.6L1716.6 2422.6L1715.4 2422.1ZM1716.6 2413.4L1725.8 2413.4L1730.5 2413.9L1730.5 2423.1L1721.3 2423.1L1716.6 2422.6ZM1721.3 2413.9L1730.5 2413.9L1735 2415.4L1735 2424.6L1725.8 2424.6L1721.3 2423.1ZM1725.8 2415.4L1735 2415.4L1739.3 2417.8L1739.3 2427L1730.1 2427L1725.8 2424.6ZM1730.1 2417.8L1739.3 2417.8L1743.2 2421.1L1743.2 2430.3L1734 2430.3L1730.1 2427ZM1734 2421.1L1743.2 2421.1L1746.5 2425.2L1746.5 2434.4L1737.3 2434.4L1734 2430.3ZM1737.3 2425.2L1746.5 2425.2L1749.2 2429.9L1749.2 2439.1L1740 2439.1L1737.3 2434.4ZM1740 2429.9L1749.2 2429.9L1751.2 2435.1L1751.2 2444.3L1742 2444.3L1740 2439.1ZM1742 2435.1L1751.2 2435.1L1752.4 2440.7L1752.4 2449.9L1743.2 2449.9L1742 2444.3ZM1743.2 2440.7L1752.4 2440.7L1752.8 2446.4L1752.8 2455.6L1743.6 2455.6L1743.2 2449.9ZM1743.6 2446.4L1752.8 2446.4L1752.8 2474L1743.6 2474ZM1742.4 2470.3L1743.6 2464.8L1752.8 2464.8L1752.8 2474L1751.6 2479.5L1742.4 2479.5ZM1739.4 2476.3L1742.4 2470.3L1751.6 2470.3L1751.6 2479.5L1748.6 2485.5L1739.4 2485.5ZM1734 2481.8L1739.4 2476.3L1748.6 2476.3L1748.6 2485.5L1743.2 2491L1734 2491Z"/>
<circle cx="1738.6" cy="2486.4" r="8.2" fill="#0000ff"/>
<path class="curve" fill="#00ff00" stroke="#00ff00" d="M151.7 2210.8L160.9 2210.8L160.9 2220.6L151.7 2220.6ZM151.7 2210.8L152.3 2204.8L161.5 2204.8L161.5 2214L160.9 2220L151.7 2220ZM152.3 2204.8L154.1 2199.1L163.3 2199.1L163.3 2208.3L161.5 2214L152.3 2214ZM154.1 2199.1L156.9 2194L166.1 2194L166.1 2203.2L163.3 2208.3L154.1 2208.3ZM156.9 2194L160.7 2189.7L169.9 2189.7L169.9 2198.9L166.1 2203.2L156.9 2203.2ZM160.7 2189.7L165.3 2186.5L174.5 2186.5L174.5 2195.7L169.9 2198.9L160.7 2198.9ZM165.3 2186.5L170.4 2184.5L179.6 2184.5L179.6 2193.7L174.5 2195.7L165.3 2195.7ZM170.4 2184.5L175.7 2183.8L184.9 2183.8L184.9 2193L179.6 2193.7L170.4 2193.7ZM175.7 2183.8L243.4 2183.6L252.6 2183.6L252.6 2192.8L184.9 2193L175.7 2193ZM243.4 2183.6L246.4 2181.2L255.6 2181.2L255.6 2190.4L252.6 2192.8L243.4 2192.8ZM246.4 2181.2L264.6 2181.2L264.6 2190.4L246.4 2190.4ZM255.4 2181.2L264.6 2181.2L268.6 2182.9L268.6 2192.1L259.4 2192.1L255.4 2190.4ZM259.4 2182.9L281.6 2182.9L281.6 2192.1L259.4 2192.1ZM272.4 2182.9L378.4 2179.7L387.6 2179.7L387.6 2188.9L281.6 2192.1L272.4 2192.1ZM378.4 2179.7L445.4 2177.1L454.6 2177.1L454.6 2186.3L387.6 2188.9L378.4 2188.9ZM445.4 2177.1L495.4 2173.2L504.6 2173.2L504.6 2182.4L454.6 2186.3L445.4 2186.3ZM495.4 2173.2L510.4 2170.9L519.6 2170.9L519.6 2180.1L504.6 2182.4L495.4 2182.4ZM510.4 2170.9L522.1 2167.9L531.3 2167.9L531.3 2177.1L519.6 2180.1L510.4 2180.1ZM522.1 2167.9L533.4 2160.4L542.6 2160.4L542.6 2169.6L531.3 2177.1L522.1 2177.1ZM533.4 2160.4L545.4 2148.7L554.6 2148.7L554.6 2157.9L542.6 2169.6L533.4 2169.6ZM545.4 2148.7L562.1 2122.1L571.3 2122.1L571.3 2131.3L554.6 2157.9L545.4 2157.9ZM562.1 2122.1L578.7 2092.1L587.9 2092.1L587.9 2101.3L571.3 2131.3L562.1 2131.3ZM578.7 2092.1L592.1 2070.4L601.3 2070.4L601.3 2079.6L587.9 2101.3L578.7 2101.3ZM592.1 2070.4L597.4 2065.4L606.6 2065.4L606.6 2074.6L601.3 2079.6L592.1 2079.6ZM597.4 2065.4L603.7 2063.7L612.9 2063.7L612.9 2072.9L606.6 2074.6L597.4 2074.6ZM603.7 2063.7L612.9 2063.7L618.6 2067.4L618.6 2076.6L609.4 2076.6L603.7 2072.9ZM609.4 2067.4L618.6 2067.4L624.6 2078.7L624.6 2087.9L615.4 2087.9L609.4 2076.6ZM615.4 2078.7L624.6 2078.7L636.3 2115.4L636.3 2124.6L627.1 2124.6L615.4 2087.9ZM627.1 2115.4L636.3 2115.4L647.9 2145.4L647.9 2154.6L638.7 2154.6L627.1 2124.6ZM638.7 2145.4L647.9 2145.4L654.6 2157.4L654.6 2166.6L645.4 2166.6L638.7 2154.6ZM645.4 2157.4L654.6 2157.4L661.3 2165.4L661.3 2174.6L652.1 2174.6L645.4 2166.6ZM652.1 2165.4L661.3 2165.4L667.6 2169.9L667.6 2179.1L658.4 2179.1L652.1 2174.6ZM658.4 2169.9L667.6 2169.9L674.6 2172.1L674.6 2181.3L665.4 2181.3L658.4 2179.1ZM665.4 2172.1L674.6 2172.1L691.3 2172.4L691.3 2181.6L682.1 2181.6L665.4 2181.3ZM682.1 2172.4L691.3 2172.4L1601.6 2172.7L1601.6 2181.9L1592.4 2181.9L682.1 2181.6ZM1592.4 2172.7L1596.4 2169.9L1605.6 2169.9L1605.6 2179.1L1601.6 2181.9L1592.4 2181.9ZM1596.4 2169.9L1605.6 2169.9L1609.6 2175.1L1609.6 2184.3L1600.4 2184.3L1596.4 2179.1ZM1600.4 2175.1L1704.6 2175.1L1704.6 2184.3L1600.4 2184.3ZM1695.4 2175.1L1699.4 2172L1708.6 2172L1708.6 2181.2L1704.6 2184.3L1695.4 2184.3ZM1699.4 2172L1720.6 2172L1720.6 2181.2L1699.4 2181.2ZM1711.4 2172L1720.6 2172L1724.6 2174.7L1724.6 2183.9L1715.4 2183.9L1711.4 2181.2ZM1715.4 2174.7L1724.6 2174.7L1725.8 2175L1725.8 2184.2L1716.6 2184.2L1715.4 2183.9ZM1716.6 2175L1725.8 2175L1730.5 2175.6L1730.5 2184.8L1721.3 2184.8L1716.6 2184.2ZM1721.3 2175.6L1730.5 2175.6L1735 2177.3L1735 2186.5L1725.8 2186.5L1721.3 2184.8ZM1725.8 2177.3L1735 2177.3L1739.3 2180.1L1739.3 2189.3L1730.1 2189.3L1725.8 2186.5ZM1730.1 2180.1L1739.3 2180.1L1743.2 2183.9L1743.2 2193.1L1734 2193.1L1730.1 2189.3ZM1734 2183.9L1743.2 2183.9L1746.5 2188.6L1746.5 2197.8L1737.3 2197.8L1734 2193.1ZM1737.3 2188.6L1746.5 2188.6L1749.2 2194L1749.2 2203.2L1740 2203.2L1737.3 2197.8ZM1740 2194L1749.2 2194L1751.2 2200L1751.2 2209.2L1742 2209.2L1740 2203.2ZM1742 2200L1751.2 2200L1752.4 2206.4L1752.4 2215.6L1743.2 2215.6L1742 2209.2ZM1743.2 2206.4L1752.4 2206.4L1752.8 2213L1752.8 2222.2L1743.6 2222.2L1743.2 2215.6ZM1743.6 2213L1752.8 2213L1752.8 2250.4L1743.6 2250.4ZM1742.4 2246.7L1743.6 2241.2L1752.8 2241.2L1752.8 2250.4L1751.6 2255.9L1742.4 2255.9ZM1739.4 2252.7L1742.4 2246.7L1751.6 2246.7L1751.6 2255.9L1748.6 2261.9L1739.4 2261.9ZM1734 2258.2L1739.4 2252.7L1748.6 2252.7L1748.6 2261.9L1743.2 2267.4L1734 2267.4Z"/>
<circle cx="1738.6" cy="2262.8" r="8.2" fill="#00ff00"/>
<path class="curve" fill="#ff00ff" stroke="#ff00ff" d="M151.7 2016.4L160.9 2016.4L160.9 2026.8L151.7 2026.8ZM151.7 2017.6L152.1 2013.4L161.3 2013.4L161.3 2022.6L160.9 2026.8L151.7 2026.8ZM152.1 2013.4L153.2 2009.4L162.4 2009.4L162.4 2018.6L161.3 2022.6L152.1 2022.6ZM153.2 2009.4L155 2005.8L164.2 2005.8L164.2 2015L162.4 2018.6L153.2 2018.6ZM155 2005.8L157.3 2002.7L166.5 2002.7L166.5 2011.9L164.2 2015L155 2015ZM157.3 2002.7L160.2 2000.5L169.4 2000.5L169.4 2009.7L166.5 2011.9L157.3 2011.9ZM160.2 2000.5L163.4 1999.1L172.6 1999.1L172.6 2008.3L169.4 2009.7L160.2 2009.7ZM163.4 1999.1L166.7 1998.6L175.9 1998.6L175.9 2007.8L172.6 2008.3L163.4 2008.3ZM166.7 1998.6L225.6 1998.6L225.6 2007.8L166.7 2007.8ZM216.4 1998.6L218.4 1996.2L227.6 1996.2L227.6 2005.4L225.6 2007.8L216.4 2007.8ZM218.4 1996.2L342.4 1994.7L351.6 1994.7L351.6 2003.9L227.6 2005.4L218.4 2005.4ZM342.4 1994.7L432.4 1992.1L441.6 1992.1L441.6 2001.3L351.6 2003.9L342.4 2003.9ZM432.4 1992.1L515.4 1988.7L524.6 1988.7L524.6 1997.9L441.6 2001.3L432.4 2001.3ZM515.4 1988.7L530.4 1987.7L539.6 1987.7L539.6 1996.9L524.6 1997.9L515.4 1997.9ZM530.4 1987.7L542.4 1985.7L551.6 1985.7L551.6 1994.9L539.6 1996.9L530.4 1996.9ZM542.4 1985.7L552.4 1981.4L561.6 1981.4L561.6 1990.6L551.6 1994.9L542.4 1994.9ZM552.4 1981.4L562.1 1974.7L571.3 1974.7L571.3 1983.9L561.6 1990.6L552.4 1990.6ZM562.1 1974.7L578.7 1958.1L587.9 1958.1L587.9 1967.3L571.3 1983.9L562.1 1983.9ZM578.7 1958.1L595.4 1932.1L604.6 1932.1L604.6 1941.3L587.9 1967.3L578.7 1967.3ZM595.4 1932.1L608.7 1907.1L617.9 1907.1L617.9 1916.3L604.6 1941.3L595.4 1941.3ZM608.7 1907.1L614.4 1900.4L623.6 1900.4L623.6 1909.6L617.9 1916.3L608.7 1916.3ZM614.4 1900.4L620.4 1898.1L629.6 1898.1L629.6 1907.3L623.6 1909.6L614.4 1909.6ZM620.4 1898.1L629.6 1898.1L634.6 1900.9L634.6 1910.1L625.4 1910.1L620.4 1907.3ZM625.4 1900.9L634.6 1900.9L639.6 1908.7L639.6 1917.9L630.4 1917.9L625.4 1910.1ZM630.4 1908.7L639.6 1908.7L651.3 1942.1L651.3 1951.3L642.1 1951.3L630.4 1917.9ZM642.1 1942.1L651.3 1942.1L661.3 1968.7L661.3 1977.9L652.1 1977.9L642.1 1951.3ZM652.1 1968.7L661.3 1968.7L667.6 1978.4L667.6 1987.6L658.4 1987.6L652.1 1977.9ZM658.4 1978.4L667.6 1978.4L674.6 1983.7L674.6 1992.9L665.4 1992.9L658.4 1987.6ZM665.4 1983.7L674.6 1983.7L682.6 1986.9L682.6 1996.1L673.4 1996.1L665.4 1992.9ZM673.4 1986.9L682.6 1986.9L691.3 1988.4L691.3 1997.6L682.1 1997.6L673.4 1996.1ZM682.1 1988.4L827.6 1988.4L827.6 1997.6L682.1 1997.6ZM818.4 1988.4L825.4 1987.4L834.6 1987.4L834.6 1996.6L827.6 1997.6L818.4 1997.6ZM825.4 1987.4L834.6 1987.4L1688.6 1987.6L1688.6 1996.8L1679.4 1996.8L825.4 1996.6ZM1679.4 1987.6L1682.4 1984.6L1691.6 1984.6L1691.6 1993.8L1688.6 1996.8L1679.4 1996.8ZM1682.4 1984.6L1725.8 1984.6L1725.8 1993.8L1682.4 1993.8ZM1716.6 1984.6L1725.8 1984.6L1730.5 1985L1730.5 1994.2L1721.3 1994.2L1716.6 1993.8ZM1721.3 1985L1730.5 1985L1735 1986.2L1735 1995.4L1725.8 1995.4L1721.3 1994.2ZM1725.8 1986.2L1735 1986.2L1739.3 1988.2L1739.3 1997.4L1730.1 1997.4L1725.8 1995.4ZM1730.1 1988.2L1739.3 1988.2L1743.2 1990.9L1743.2 2000.1L1734 2000.1L1730.1 1997.4ZM1734 1990.9L1743.2 1990.9L1746.5 1994.2L1746.5 2003.4L1737.3 2003.4L1734 2000.1ZM1737.3 1994.2L1746.5 1994.2L1749.2 1998.1L1749.2 2007.3L1740 2007.3L1737.3 2003.4ZM1740 1998.1L1749.2 1998.1L1751.2 2002.4L1751.2 2011.6L1742 2011.6L1740 2007.3ZM1742 2002.4L1751.2 2002.4L1752.4 2006.9L1752.4 2016.1L1743.2 2016.1L1742 2011.6ZM1743.2 2006.9L1752.4 2006.9L1752.8 2011.6L1752.8 2020.8L1743.6 2020.8L1743.2 2016.1ZM1743.6 2011.6L1752.8 2011.6L1752.8 2035.8L1743.6 2035.8ZM1742.4 2032.1L1743.6 2026.6L1752.8 2026.6L1752.8 2035.8L1751.6 2041.3L1742.4 2041.3ZM1739.4 2038.1L1742.4 2032.1L1751.6 2032.1L1751.6 2041.3L1748.6 2047.3L1739.4 2047.3ZM1734 2043.6L1739.4 2038.1L1748.6 2038.1L1748.6 2047.3L1743.2 2052.8L1734 2052.8Z"/>
<circle cx="1738.6" cy="2048.2" r="8.2" fill="#ff00ff"/>
</g>
<line class="dot" stroke-dasharray="13.2 14.80" x1="676.6" y1="1793.3" x2="680.6" y2="2983.5"/>
<text x="177.6" y="1930.4" font-size="161">(b)</text>
<text class="ttl" y="1910.8" font-size="106"><tspan x="1193.5" y="1910.5" font-size="107" textLength="48" lengthAdjust="spacingAndGlyphs" style="stroke-width:4.6">1</tspan><tspan x="1248.0" y="1873.0" font-size="71" textLength="50" lengthAdjust="spacingAndGlyphs" style="stroke-width:2.6">st</tspan><tspan x="1295.0" y="1910.8" textLength="406.5" lengthAdjust="spacingAndGlyphs" xml:space="preserve"> cooling</tspan></text><line class="ul" x1="1190" y1="1950.3" x2="1703" y2="1950.3"/>
<text x="1154.3" y="2069.9" font-size="73" textLength="504.4" lengthAdjust="spacingAndGlyphs">BA/BI = 8/2 - 0.2</text>
<text x="1146.1" y="2254.5" font-size="73" textLength="506.0" lengthAdjust="spacingAndGlyphs">BA/BI = 8/2 - 0.1</text>
<text x="1146.1" y="2495.5" font-size="73" textLength="543.0" lengthAdjust="spacingAndGlyphs">BA/BI = 8/2 - 0.05</text>
<text x="1151.6" y="2682.9" font-size="73" textLength="542.0" lengthAdjust="spacingAndGlyphs">BA/BI = 8/2 - 0.01</text>
<text x="1151.6" y="2858.9" font-size="73" textLength="580.5" lengthAdjust="spacingAndGlyphs">BA/BI = 8/2 - 0.001</text>
<text x="154.5" y="3077.1" font-size="71.5" text-anchor="middle" textLength="98.0" lengthAdjust="spacingAndGlyphs" class="tl">-50</text>
<text x="553.3" y="3077.1" font-size="71.5" text-anchor="middle" textLength="37.5" lengthAdjust="spacingAndGlyphs" class="tl">0</text>
<text x="950.9" y="3077.1" font-size="71.5" text-anchor="middle" textLength="72.5" lengthAdjust="spacingAndGlyphs" class="tl">50</text>
<text x="1349.8" y="3077.1" font-size="71.5" text-anchor="middle" textLength="107.5" lengthAdjust="spacingAndGlyphs" class="tl">100</text>
<text x="1745.4" y="3077.1" font-size="71.5" text-anchor="middle" textLength="107.0" lengthAdjust="spacingAndGlyphs" class="tl">150</text>
<text x="642.3" y="3164.8" font-size="82.3" textLength="617.5" lengthAdjust="spacingAndGlyphs">Temperature (ºC)</text>
<text transform="translate(96.7,2903.5) rotate(-90)" font-size="82.5" textLength="1026" lengthAdjust="spacingAndGlyphs">Heat Flow Endo Down (mW)</text>
</g>
</svg>
</body>
</html>
